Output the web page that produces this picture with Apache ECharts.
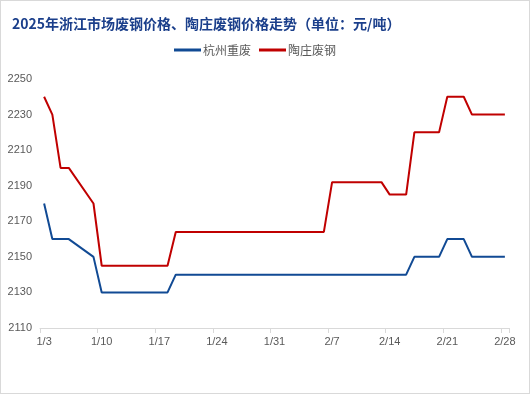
<!DOCTYPE html>
<html>
<head>
<meta charset="utf-8">
<script src="https://cdn.jsdelivr.net/npm/echarts@6/dist/echarts.min.js"></script>
<style>
html,body{margin:0;padding:0;background:#fff;}
#c{width:530px;height:394px;box-sizing:border-box;border:1px solid #D9D9D9;}
</style>
</head>
<body>
<div id="c"></div>
<script>
const titleText = '2025年浙江市场废钢价格、陶庄废钢价格走势（单位：元/吨）';
const categories = ['1/3','1/4','1/5','1/6','1/7','1/8','1/9','1/10','1/11','1/12','1/13','1/14','1/15','1/16','1/17','1/18','1/19','1/20','1/21','1/22','1/23','1/24','1/25','1/26','1/27','1/28','1/29','1/30','1/31','2/1','2/2','2/3','2/4','2/5','2/6','2/7','2/8','2/9','2/10','2/11','2/12','2/13','2/14','2/15','2/16','2/17','2/18','2/19','2/20','2/21','2/22','2/23','2/24','2/25','2/26','2/27','2/28'];
const seriesNames = ['杭州重废','陶庄废钢'];
const hangzhou = [2180,2160,2160,2160,null,null,2150,
  2130,2130,2130,2130,2130,2130,2130,2130,2130,
  2140,2140,2140,2140,2140,2140,2140,2140,2140,2140,2140,2140,2140,2140,2140,2140,2140,2140,2140,2140,2140,2140,2140,2140,2140,2140,2140,2140,2140,
  2150,2150,2150,2150,
  2160,2160,2160,
  2150,2150,2150,2150,2150];
const taozhuang = [2240,2230,2200,2200,null,null,2180,
  2145,2145,2145,2145,2145,2145,2145,2145,2145,
  2164,2164,2164,2164,2164,2164,2164,2164,2164,2164,2164,2164,2164,2164,2164,2164,2164,2164,2164,
  2192,2192,2192,2192,2192,2192,2192,
  2185,2185,2185,
  2220,2220,2220,2220,
  2240,2240,2240,
  2230,2230,2230,2230,2230];
const yMin = 2110, yMax = 2250, yLabelStep = 20;

const chart = echarts.init(document.getElementById('c'), null, {renderer:'canvas'});
chart.setOption({
  animation: false,
  backgroundColor: '#fff',
  title: {
    text: titleText, left: 6, top: 11,
    textStyle: {fontFamily: '"Noto Sans CJK SC", sans-serif', fontSize: 14, fontWeight: 'bold', color: '#1B3F8B'}
  },
  legend: {
    data: seriesNames.map(n => ({name: n, icon: 'rect'})), top: 43, left: 173, padding: 0,
    itemWidth: 27, itemHeight: 3, itemGap: 8,
    textStyle: {fontFamily: '"Noto Sans CJK SC", sans-serif', fontSize: 12, color: '#595959', padding: [0,0,0,-3]}
  },
  grid: {left: 39, right: 20, top: 78, bottom: 65, containLabel: false},
  xAxis: {
    type: 'category', data: categories, boundaryGap: true,
    axisLine: {lineStyle: {color: '#D9D9D9', width: 1}},
    axisTick: {show: true, interval: 6, length: 5, lineStyle: {color: '#D9D9D9'}},
    axisLabel: {interval: 6, margin: 8, fontFamily: '"Liberation Sans", sans-serif', fontSize: 11, color: '#595959'}
  },
  yAxis: {
    type: 'value', min: yMin, max: yMax, interval: 10,
    splitLine: {show: false}, axisLine: {show: false}, axisTick: {show: false},
    axisLabel: {margin: 8, fontFamily: '"Liberation Sans", sans-serif', fontSize: 11, color: '#595959',
      formatter: v => ((v - yMin) % yLabelStep === 0 ? String(v) : '')}
  },
  series: [
    {name: seriesNames[0], type: 'line', data: hangzhou, connectNulls: true, symbol: 'none',
     itemStyle: {color: '#114A94'}, lineStyle: {color: '#114A94', width: 2}},
    {name: seriesNames[1], type: 'line', data: taozhuang, connectNulls: true, symbol: 'none',
     itemStyle: {color: '#C00000'}, lineStyle: {color: '#C00000', width: 2}}
  ]
});
</script>
</body>
</html>
